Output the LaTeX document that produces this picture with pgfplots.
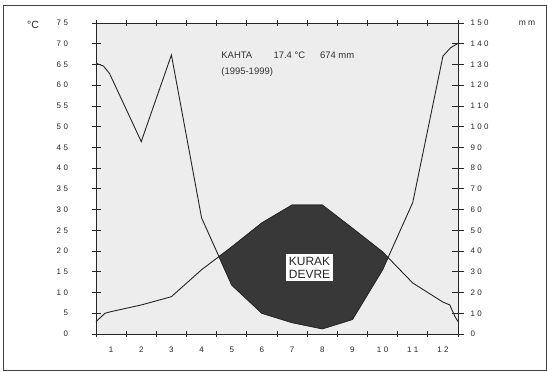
\documentclass[border=0pt]{standalone}
\usepackage{pgfplots}
\pgfplotsset{compat=1.18}
\usepackage{pgfplotstable}
\usepackage{fontspec}
\setmainfont{Liberation Sans}
\newcommand\dsp{\hspace{2.4bp}}

\pgfplotstableread{
u mm
0 130.6
0.25 129.2
0.45 125.6
1.5 92.8
2.5 134.6
3.5 56
4.5 23.6
5.5 10
6.5 5.5
7.5 2.5
8.5 7
9.5 31
10.5 63.4
11.5 134
11.75 138
12 140.2
}\prec

\pgfplotstableread{
u t
0 3.0
0.3 5.0
0.5 5.4
1.5 7.0
2.5 9.0
3.5 15.5
4.5 21.0
5.5 26.8
6.5 31.1
7.5 31.1
8.5 25.5
9.5 19.8
10.5 12.3
11.5 7.7
11.73 7.0
11.8 5.8
11.9 4.2
12 3.0
}\temp

\begin{document}
\begin{tikzpicture}
\useasboundingbox (0,0) rectangle (547bp,372bp);
\draw[line width=0.9bp, black!75] (3bp,2bp) rectangle (546bp,367bp);
\node[font=\fontsize{10.5}{12}\selectfont, text=black!85] at (33bp,347bp) {°C};
\node[font=\fontsize{8.5}{10}\selectfont, text=black!85] at (527bp,349bp) {m\dsp m};

\begin{axis}[
  at={(96bp,38bp)}, anchor=south west,
  scale only axis, width=362bp, height=311bp,
  xmin=0, xmax=12, ymin=0, ymax=75,
  axis background/.style={fill=black!7},
  axis line style={line width=0.8bp, black!85},
  tick align=center,
  major tick length=9bp, minor tick length=6bp,
  tick style={line width=0.8bp, black!85},
  xtick={0.5,1.5,...,11.5},
  xticklabels={1,2,3,4,5,6,7,8,9,1\dsp0,1\dsp1,1\dsp2},
  major x tick style={draw=none},
  minor xtick={0,1,...,12},
  ytick={0,5,...,75},
  yticklabels={0,5,1\dsp0,1\dsp5,2\dsp0,2\dsp5,3\dsp0,3\dsp5,4\dsp0,4\dsp5,5\dsp0,5\dsp5,6\dsp0,6\dsp5,7\dsp0,7\dsp5},
  ytick pos=left,
  ticklabel style={font=\fontsize{8}{9}\selectfont, text=black!85},
  yticklabel style={xshift=-20bp},
  xticklabel style={yshift=-5bp},
  clip=false,
]
\addplot[line width=0.9bp, black!85] table[x=u, y expr=\thisrow{mm}/2] {\prec};
\addplot[line width=0.9bp, black!85] table[x=u, y=t] {\temp};
\addplot[fill=black!78, draw=black!85, line width=0.6bp] coordinates {
  (4.076,18.67) (4.5,21.0) (5.5,26.8) (6.5,31.1) (7.5,31.1) (8.5,25.5) (9.5,19.8) (9.68,18.44)
  (9.5,15.5) (8.5,3.5) (7.5,1.25) (6.5,2.75) (5.5,5) (4.5,11.8)
} -- cycle;
\node[fill=white, align=left, inner sep=2.5bp, font=\fontsize{12}{13.5}\selectfont, text=black!85] at (axis cs:7.08,16.0) {KURAK\\DEVRE};
\node[anchor=base west, font=\fontsize{9.5}{11}\selectfont, text=black!80] at (axis cs:4.04,66.5) {KAHTA};
\node[anchor=base west, font=\fontsize{9.5}{11}\selectfont, text=black!80] at (axis cs:5.77,66.5) {17.4 °C};
\node[anchor=base west, font=\fontsize{9.5}{11}\selectfont, text=black!80] at (axis cs:7.31,66.5) {674 mm};
\node[anchor=base west, font=\fontsize{9.5}{11}\selectfont, text=black!80] at (axis cs:4.04,62.6) {(1995-1999)};
\end{axis}

\begin{axis}[
  at={(96bp,38bp)}, anchor=south west,
  scale only axis, width=362bp, height=311bp,
  xmin=0, xmax=12, ymin=0, ymax=150,
  axis x line=none, axis y line*=right,
  axis line style={line width=0.8bp, black!85},
  tick align=center, major tick length=12bp,
  tick style={line width=0.8bp, black!85},
  ytick={0,10,...,150},
  yticklabels={0,1\dsp0,2\dsp0,3\dsp0,4\dsp0,5\dsp0,6\dsp0,7\dsp0,8\dsp0,9\dsp0,1\dsp0\dsp0,1\dsp1\dsp0,1\dsp2\dsp0,1\dsp3\dsp0,1\dsp4\dsp0,1\dsp5\dsp0},
  ticklabel style={font=\fontsize{8}{9}\selectfont, text=black!85},
  yticklabel style={xshift=3bp},
]
\end{axis}
\end{tikzpicture}
\end{document}
